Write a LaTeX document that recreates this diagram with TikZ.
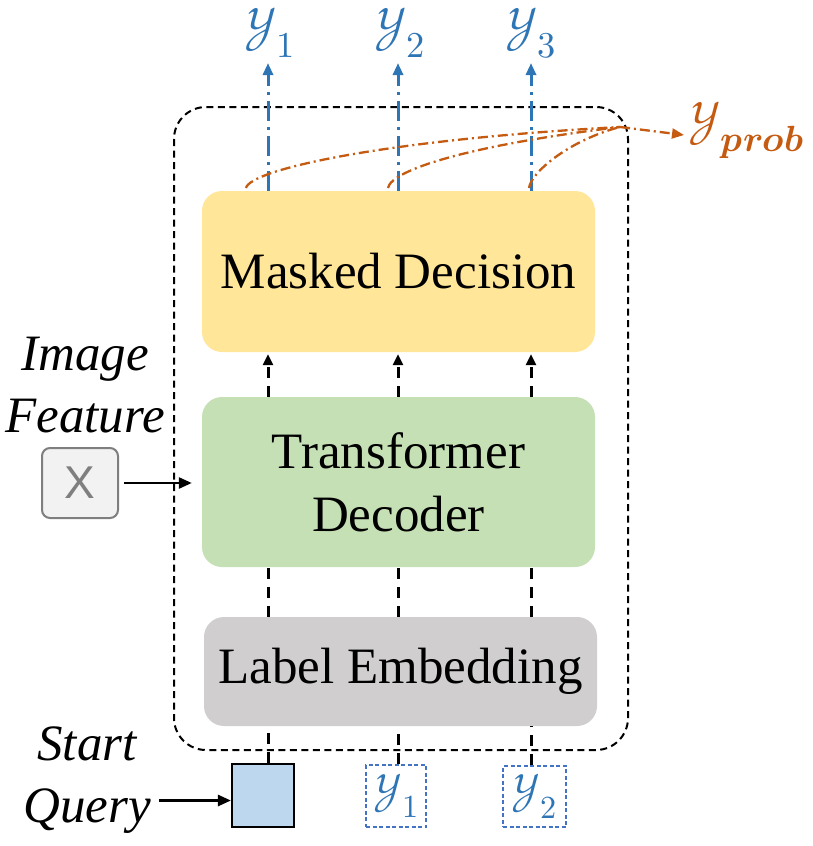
\documentclass[tikz,border=0pt]{standalone}
\usepackage{fontspec}
\usepackage{unicode-math}
\setmainfont{Liberation Serif}
\setmathfont{Latin Modern Math}
\newfontfamily\xsans{Liberation Sans}
\usetikzlibrary{arrows.meta}
\definecolor{mdyellow}{HTML}{FFE699}
\definecolor{tdgreen}{HTML}{C5E0B4}
\definecolor{legray}{HTML}{D0CECE}
\definecolor{sqblue}{HTML}{BDD7EE}
\definecolor{xfill}{HTML}{F2F2F2}
\definecolor{xgray}{HTML}{7F7F7F}
\definecolor{lblue}{HTML}{2E75B6}
\definecolor{dblue}{HTML}{4472C4}
\definecolor{dorange}{HTML}{C55A11}
\newcommand{\ysub}[1]{\mathcal{Y}_{#1}}
\tikzset{
  blk/.style={rounded corners=20pt, minimum width=393pt, inner sep=0pt, align=center, font=\fontsize{51}{63}\selectfont},
  blkdash/.style={draw=black, line width=3pt, dash pattern=on 11pt off 8pt},
  upline/.style={draw=lblue, line width=3pt, dash pattern=on 20pt off 6pt on 3pt off 6pt, -{Triangle[length=12pt,width=10pt]}},
  probline/.style={draw=dorange, line width=2.3pt, dash pattern=on 10pt off 4pt on 2pt off 4pt},
  ylab/.style={text=lblue, inner sep=0pt, font=\fontsize{52}{58}\selectfont},
  ybox/.style={draw=dblue, line width=1.8pt, dash pattern=on 4pt off 2.5pt, text=lblue, inner sep=0pt, font=\fontsize{46}{50}\selectfont},
  sidetxt/.style={align=center, font=\fontsize{51}{62}\selectfont\itshape, inner sep=0pt},
  solidarrow/.style={draw=black, line width=2.6pt, -{Triangle[length=13pt,width=11pt]}}
}
\begin{document}
\begin{tikzpicture}[x=1pt,y=-1pt]
\useasboundingbox (0,0) rectangle (812,846);
% outer dashed container
\draw[line width=2pt, dash pattern=on 7pt off 4.5pt, rounded corners=32pt] (174,107) rectangle (628,750);
% main blocks
\node[blk, fill=mdyellow, minimum height=161pt] (md) at (398.5,271.5) {Masked Decision};
\node[blk, fill=tdgreen, minimum height=170pt] (td) at (398.5,482) {Transformer\\Decoder};
\node[blk, fill=legray, minimum height=109pt] (le) at (400.5,671.5) {Label Embedding};
% column coordinates
\coordinate (c1) at (268,0);
\coordinate (c2) at (398,0);
\coordinate (c3) at (531,0);
% bottom inputs
\node[draw=black, line width=2.2pt, fill=sqblue, minimum width=62pt, minimum height=63pt, inner sep=0pt] (sq) at (263,795.5) {};
\node[ybox, minimum width=60pt, minimum height=62pt] (yb1) at (396,796) {$\ysub{1}$};
\node[ybox, minimum width=63pt, minimum height=61pt] (yb2) at (534.5,796.5) {$\ysub{2}$};
% top outputs
\node[ylab] (yt1) at (270,33) {$\ysub{1}$};
\node[ylab] (yt2) at (400,33) {$\ysub{2}$};
\node[ylab] (yt3) at (531,33) {$\ysub{3}$};
\node[text=dorange, inner sep=0pt, anchor=west, font=\fontsize{52}{58}\selectfont] (yprob) at (688,130) {$\mathcal{Y}_{\symbfit{prob}}$};
% side labels
\node[sidetxt] (imf) at (85,385) {Image\\Feature};
\node[draw=xgray, line width=2pt, fill=xfill, rounded corners=8pt, minimum width=76pt, minimum height=70pt, inner sep=0pt, text=xgray, font=\xsans\fontsize{46}{50}\selectfont] (xb) at (80,483) {X};
\node[sidetxt] (sq-lab) at (87,780) {Start\\Query};
% solid arrows
\draw[solidarrow, shorten <=5pt, shorten >=10pt] (xb.east) -- (xb.east -| td.west);
\draw[solidarrow] (sq.west -| sq-lab.east) ++(8pt,-5pt) -- ++(72pt,0);
% dashed connectors
\foreach \c/\s in {c1/sq, c2/yb1, c3/yb2}{
  \draw[blkdash] (\s.north -| \c) -- (le.south -| \c);
  \draw[blkdash] (le.north -| \c) -- (td.south -| \c);
  \draw[blkdash, -{Triangle[length=11pt,width=10pt]}] (td.north -| \c) -- ([yshift=-2pt]md.south -| \c);
}
% blue output arrows
\coordinate (t1) at (268,63);
\coordinate (t2) at (398,63);
\coordinate (t3) at (531,63);
\draw[upline] (md.north -| c1) -- (t1);
\draw[upline] (md.north -| c2) -- (t2);
\draw[upline] (md.north -| c3) -- (t3);
% orange probability curves
\coordinate (pm) at (620,127);
\coordinate (s1) at (246,188);
\coordinate (s2) at (388,188);
\coordinate (s3) at (529,188);
\draw[probline] (s1) .. controls (250,170) and (380,140) .. (pm);
\draw[probline] (s2) .. controls (391,170) and (470,145) .. (pm);
\draw[probline] (s3) .. controls (531,172) and (570,140) .. (pm);
\draw[probline, -{Triangle[length=12pt,width=10pt]}] (pm) -- ([xshift=-4pt,yshift=-5pt]yprob.west);
\end{tikzpicture}
\end{document}
